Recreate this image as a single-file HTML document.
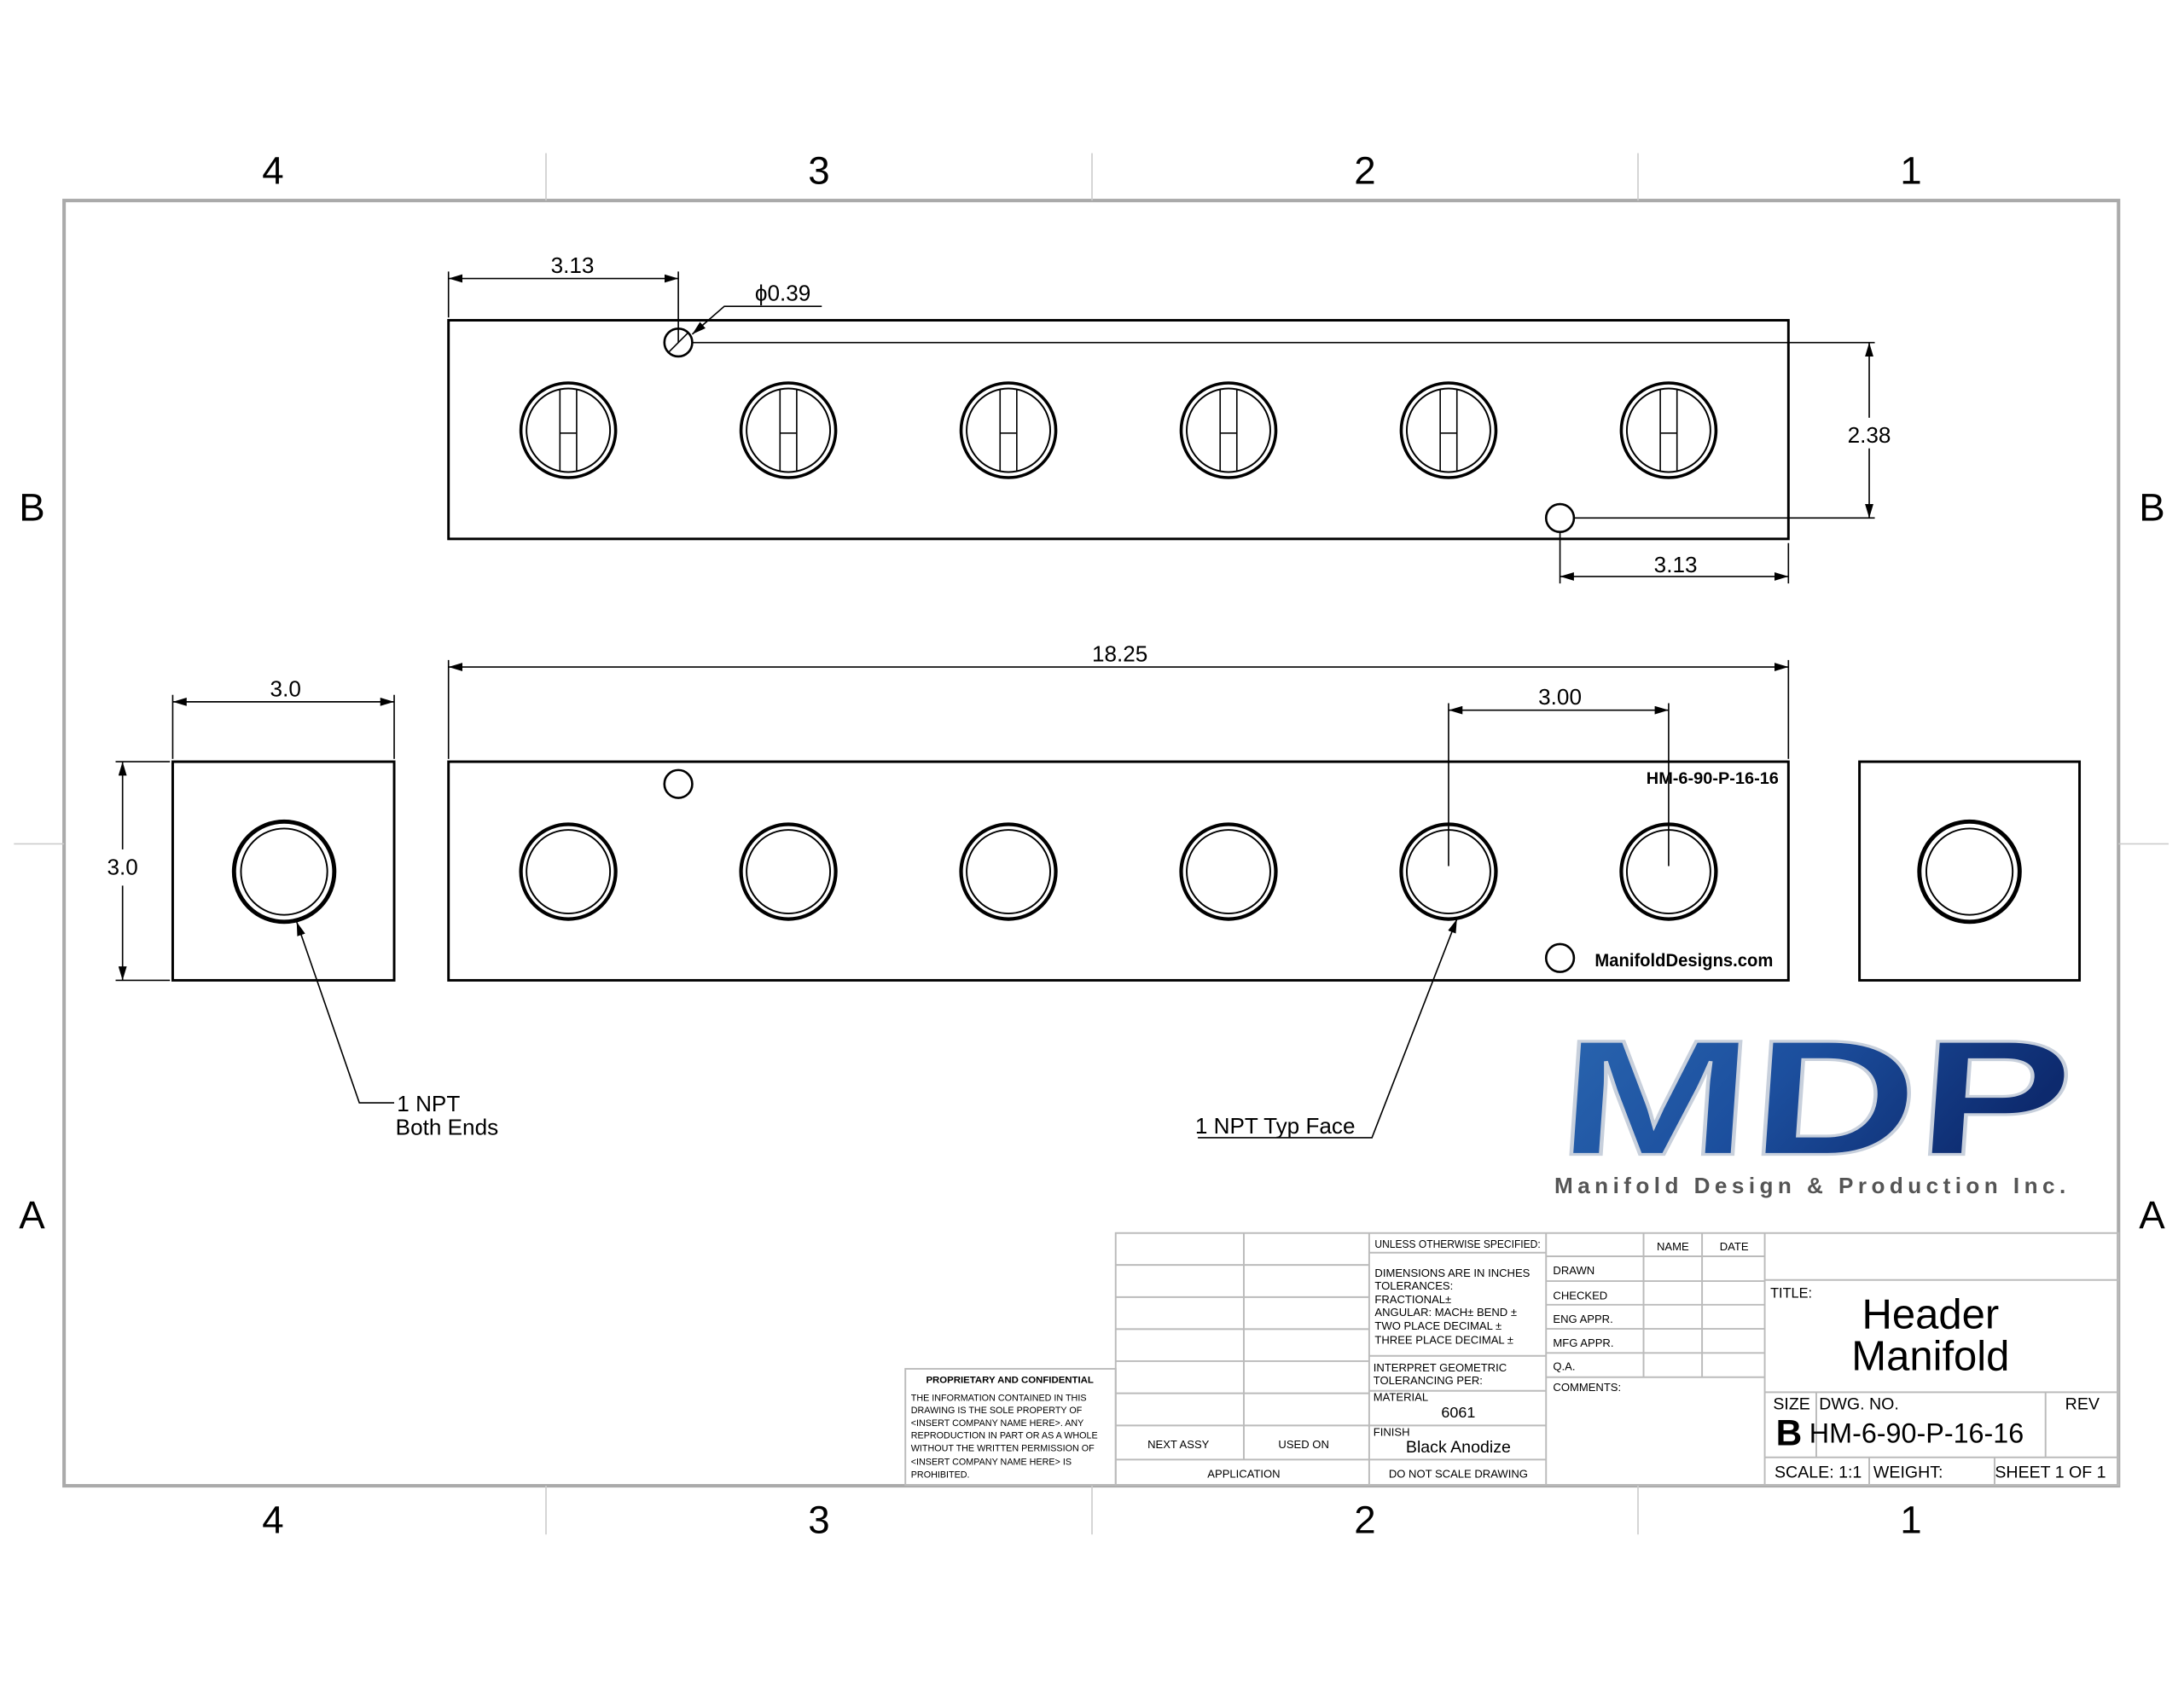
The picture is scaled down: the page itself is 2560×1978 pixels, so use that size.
<!DOCTYPE html>
<html><head><meta charset="utf-8"><style>
html,body{margin:0;padding:0;background:#fff;}
svg{display:block;}
text{font-family:"Liberation Sans",sans-serif;}
</style></head><body>
<svg width="2560" height="1978" viewBox="0 0 1568 1211.5" preserveAspectRatio="none" xmlns="http://www.w3.org/2000/svg">
<defs>
<marker id="a" viewBox="0 0 10 6" refX="10" refY="3" markerWidth="10" markerHeight="6" orient="auto-start-reverse" markerUnits="userSpaceOnUse"><path d="M0,0 L10,3 L0,6 z" fill="#000"/></marker>
<linearGradient id="g" x1="0" y1="0" x2="1" y2="0.3"><stop offset="0" stop-color="#2a66b0"/><stop offset="0.5" stop-color="#1c4f9e"/><stop offset="1" stop-color="#0d2a6e"/></linearGradient>
<g id="bolt"><circle r="34" fill="none" stroke="#000" stroke-width="2.2"/><circle r="30" fill="none" stroke="#000" stroke-width="1.2"/><line x1="-6" y1="-29" x2="-6" y2="29" stroke="#000" stroke-width="1"/><line x1="6" y1="-29" x2="6" y2="29" stroke="#000" stroke-width="1"/><line x1="-6" y1="2" x2="6" y2="2" stroke="#000" stroke-width="1"/></g>
<g id="port"><circle r="34" fill="none" stroke="#000" stroke-width="2.6"/><circle r="30" fill="none" stroke="#000" stroke-width="1.2"/></g>
</defs>
<!-- frame -->
<rect x="46" y="144" width="1475" height="923" fill="none" stroke="#aaa" stroke-width="2.5"/>
<g stroke="#ccc" stroke-width="1">
<line x1="392" y1="110" x2="392" y2="144"/><line x1="784" y1="110" x2="784" y2="144"/><line x1="1176" y1="110" x2="1176" y2="144"/>
<line x1="392" y1="1067" x2="392" y2="1102"/><line x1="784" y1="1067" x2="784" y2="1102"/><line x1="1176" y1="1067" x2="1176" y2="1102"/>
<line x1="10" y1="606" x2="46" y2="606"/><line x1="1521" y1="606" x2="1557" y2="606"/>
</g>
<g font-size="28" text-anchor="middle" fill="#000">
<text x="196" y="132">4</text><text x="588" y="132">3</text><text x="980" y="132">2</text><text x="1372" y="132">1</text>
<text x="196" y="1101">4</text><text x="588" y="1101">3</text><text x="980" y="1101">2</text><text x="1372" y="1101">1</text>
<text x="23" y="374">B</text><text x="1545" y="374">B</text><text x="23" y="882">A</text><text x="1545" y="882">A</text>
</g>
<!-- top view -->
<rect x="322" y="230" width="962" height="157" fill="none" stroke="#000" stroke-width="1.8"/>
<use href="#bolt" x="408" y="309"/><use href="#bolt" x="566" y="309"/><use href="#bolt" x="724" y="309"/><use href="#bolt" x="882" y="309"/><use href="#bolt" x="1040" y="309"/><use href="#bolt" x="1198" y="309"/>
<circle cx="487" cy="246" r="10" fill="none" stroke="#000" stroke-width="1.6"/>
<circle cx="1120" cy="372" r="10" fill="none" stroke="#000" stroke-width="1.6"/>
<g stroke="#000" stroke-width="1" fill="none">
<line x1="322" y1="195" x2="322" y2="228"/><line x1="487" y1="195" x2="487" y2="246"/>
<line x1="322" y1="200" x2="487" y2="200" marker-start="url(#a)" marker-end="url(#a)"/>
<line x1="480" y1="253" x2="494" y2="239"/>
<polyline points="590,220 520,220 497,240" marker-end="url(#a)"/>
<line x1="497" y1="246" x2="1346" y2="246"/><line x1="1130" y1="372" x2="1346" y2="372"/>
<line x1="1342" y1="246" x2="1342" y2="372" marker-start="url(#a)" marker-end="url(#a)"/>
<line x1="1120" y1="382" x2="1120" y2="419"/><line x1="1284" y1="390" x2="1284" y2="419"/>
<line x1="1120" y1="414" x2="1284" y2="414" marker-start="url(#a)" marker-end="url(#a)"/>
</g>
<rect x="1324" y="300" width="36" height="22" fill="#fff"/>
<rect x="72" y="612" width="32" height="22" fill="#fff"/>
<g font-size="16" text-anchor="middle" fill="#000">
<text x="411" y="196">3.13</text><text x="562" y="216">ϕ0.39</text><text x="1342" y="318">2.38</text><text x="1203" y="411">3.13</text>
<text x="804" y="475">18.25</text><text x="1120" y="506">3.00</text><text x="205" y="500">3.0</text><text x="88" y="628">3.0</text>
</g>
<!-- front view -->
<rect x="322" y="547" width="962" height="157" fill="none" stroke="#000" stroke-width="1.8"/>
<use href="#port" x="408" y="626"/><use href="#port" x="566" y="626"/><use href="#port" x="724" y="626"/><use href="#port" x="882" y="626"/><use href="#port" x="1040" y="626"/><use href="#port" x="1198" y="626"/>
<circle cx="487" cy="563" r="10" fill="none" stroke="#000" stroke-width="1.6"/>
<circle cx="1120" cy="688" r="10" fill="none" stroke="#000" stroke-width="1.6"/>
<text x="1277" y="563" font-size="12" font-weight="bold" text-anchor="end" textLength="95" lengthAdjust="spacingAndGlyphs" fill="#000">HM-6-90-P-16-16</text>
<text x="1273" y="694" font-size="13" font-weight="bold" text-anchor="end" textLength="128" lengthAdjust="spacingAndGlyphs" fill="#000">ManifoldDesigns.com</text>
<g stroke="#000" stroke-width="1" fill="none">
<line x1="322" y1="474" x2="322" y2="545"/><line x1="1284" y1="474" x2="1284" y2="545"/>
<line x1="322" y1="479" x2="1284" y2="479" marker-start="url(#a)" marker-end="url(#a)"/>
<line x1="1040" y1="505" x2="1040" y2="622"/><line x1="1198" y1="505" x2="1198" y2="622"/>
<line x1="1040" y1="510" x2="1198" y2="510" marker-start="url(#a)" marker-end="url(#a)"/>
<line x1="124" y1="499" x2="124" y2="545"/><line x1="283" y1="499" x2="283" y2="545"/>
<line x1="124" y1="504" x2="283" y2="504" marker-start="url(#a)" marker-end="url(#a)"/>
<line x1="83" y1="547" x2="122" y2="547"/><line x1="83" y1="704" x2="122" y2="704"/>
<line x1="88" y1="547" x2="88" y2="610" marker-start="url(#a)"/>
<line x1="88" y1="636" x2="88" y2="704" marker-end="url(#a)"/>
<polyline points="283,792 258,792 213,662" marker-end="url(#a)"/>
<polyline points="860,817 985,817 1046,660" marker-end="url(#a)"/>
</g>
<!-- ends -->
<rect x="124" y="547" width="159" height="157" fill="none" stroke="#000" stroke-width="1.8"/>
<circle cx="204" cy="626" r="36" fill="none" stroke="#000" stroke-width="3"/><circle cx="204" cy="626" r="31" fill="none" stroke="#000" stroke-width="1.2"/>
<rect x="1335" y="547" width="158" height="157" fill="none" stroke="#000" stroke-width="1.8"/>
<circle cx="1414" cy="626" r="36" fill="none" stroke="#000" stroke-width="3"/><circle cx="1414" cy="626" r="31" fill="none" stroke="#000" stroke-width="1.2"/>
<g font-size="16" fill="#000">
<text x="285" y="798">1 NPT</text><text x="284" y="815">Both Ends</text><text x="858" y="814">1 NPT Typ Face</text>
</g>
<!-- logo -->
<text x="1117" y="829" font-size="118" font-weight="bold" style="fill:url(#g)" stroke="#c8d0dc" stroke-width="2" textLength="368" lengthAdjust="spacingAndGlyphs" transform="skewX(-4) translate(58,0)">MDP</text>
<text x="1116" y="857" font-size="16" font-weight="bold" style="fill:#555" textLength="367" lengthAdjust="spacing">Manifold Design &amp; Production Inc.</text>
<!-- title block -->
<g stroke="#bbb" stroke-width="1.2" fill="none">
<rect x="801" y="885.5" width="720" height="181"/>
<line x1="893" y1="885.5" x2="893" y2="1048"/><line x1="983" y1="885.5" x2="983" y2="1066.5"/><line x1="1110" y1="885.5" x2="1110" y2="1066.5"/>
<line x1="801" y1="908.4" x2="983" y2="908.4"/><line x1="801" y1="931.5" x2="983" y2="931.5"/><line x1="801" y1="954.5" x2="983" y2="954.5"/><line x1="801" y1="977.5" x2="983" y2="977.5"/><line x1="801" y1="1000.6" x2="983" y2="1000.6"/><line x1="801" y1="1023.7" x2="983" y2="1023.7"/><line x1="801" y1="1048.2" x2="1110" y2="1048.2"/>
<line x1="983" y1="899.6" x2="1110" y2="899.6"/><line x1="983" y1="973.7" x2="1110" y2="973.7"/><line x1="983" y1="998.8" x2="1110" y2="998.8"/><line x1="983" y1="1023.7" x2="1110" y2="1023.7"/>
<line x1="1110" y1="902.2" x2="1267" y2="902.2"/><line x1="1110" y1="920" x2="1267" y2="920"/><line x1="1110" y1="937" x2="1267" y2="937"/><line x1="1110" y1="954.3" x2="1267" y2="954.3"/><line x1="1110" y1="971.6" x2="1267" y2="971.6"/><line x1="1110" y1="989" x2="1267" y2="989"/>
<line x1="1180" y1="885.5" x2="1180" y2="989"/><line x1="1222" y1="885.5" x2="1222" y2="989"/><line x1="1267" y1="885.5" x2="1267" y2="1066.5"/>
<line x1="1267" y1="919.2" x2="1521" y2="919.2"/><line x1="1267" y1="999.8" x2="1521" y2="999.8"/><line x1="1267" y1="1046.6" x2="1521" y2="1046.6"/>
<line x1="1304" y1="999.8" x2="1304" y2="1046.6"/><line x1="1468.6" y1="999.8" x2="1468.6" y2="1046.6"/><line x1="1342" y1="1046.6" x2="1342" y2="1066.5"/><line x1="1432" y1="1046.6" x2="1432" y2="1066.5"/>
<rect x="650" y="983" width="151" height="83.5"/>
</g>
<g font-size="8" fill="#000">
<text x="987" y="896" textLength="119" lengthAdjust="spacingAndGlyphs">UNLESS OTHERWISE SPECIFIED:</text>
<text x="987" y="917">DIMENSIONS ARE IN INCHES</text>
<text x="987" y="926">TOLERANCES:</text>
<text x="987" y="936">FRACTIONAL±</text>
<text x="987" y="945">ANGULAR: MACH±    BEND ±</text>
<text x="987" y="955">TWO PLACE DECIMAL    ±</text>
<text x="987" y="965">THREE PLACE DECIMAL  ±</text>
<text x="986" y="985">INTERPRET GEOMETRIC</text>
<text x="986" y="994">TOLERANCING PER:</text>
<text x="986" y="1006">MATERIAL</text>
<text x="986" y="1031">FINISH</text>
<text x="1201" y="898" text-anchor="middle">NAME</text><text x="1245" y="898" text-anchor="middle">DATE</text>
<text x="1115" y="915">DRAWN</text><text x="1115" y="933">CHECKED</text><text x="1115" y="950">ENG APPR.</text><text x="1115" y="967">MFG APPR.</text><text x="1115" y="984">Q.A.</text><text x="1115" y="999">COMMENTS:</text>
<text x="846" y="1040" text-anchor="middle">NEXT ASSY</text><text x="936" y="1040" text-anchor="middle">USED ON</text>
<text x="893" y="1061" text-anchor="middle">APPLICATION</text><text x="1047" y="1061" text-anchor="middle">DO NOT SCALE DRAWING</text>
<text x="1271" y="932" font-size="10">TITLE:</text>
</g>
<text x="1047" y="1018" font-size="11" text-anchor="middle" fill="#000">6061</text>
<text x="1047" y="1043" font-size="12" text-anchor="middle" fill="#000">Black Anodize</text>
<text x="1386" y="954" font-size="30" text-anchor="middle" fill="#000">Header</text>
<text x="1386" y="984" font-size="30" text-anchor="middle" fill="#000">Manifold</text>
<g font-size="12" fill="#000">
<text x="1273" y="1012">SIZE</text><text x="1306" y="1012">DWG.  NO.</text><text x="1495" y="1012" text-anchor="middle">REV</text>
<text x="1274" y="1061">SCALE: 1:1</text><text x="1345" y="1061">WEIGHT:</text><text x="1512" y="1061" text-anchor="end">SHEET 1 OF 1</text>
</g>
<text x="1275" y="1038" font-size="26" font-weight="bold" fill="#000">B</text>
<text x="1299" y="1036" font-size="20" textLength="154" lengthAdjust="spacingAndGlyphs" fill="#000">HM-6-90-P-16-16</text>
<g font-size="6.6" fill="#000">
<text x="725" y="993" text-anchor="middle" font-weight="bold" font-size="7">PROPRIETARY AND CONFIDENTIAL</text>
<text x="654" y="1006">THE INFORMATION CONTAINED IN THIS</text>
<text x="654" y="1015">DRAWING IS THE SOLE PROPERTY OF</text>
<text x="654" y="1024">&lt;INSERT COMPANY NAME HERE&gt;.  ANY</text>
<text x="654" y="1033">REPRODUCTION IN PART OR AS A WHOLE</text>
<text x="654" y="1042">WITHOUT THE WRITTEN PERMISSION OF</text>
<text x="654" y="1052">&lt;INSERT COMPANY NAME HERE&gt; IS</text>
<text x="654" y="1061">PROHIBITED.</text>
</g>
</svg>
</body></html>
